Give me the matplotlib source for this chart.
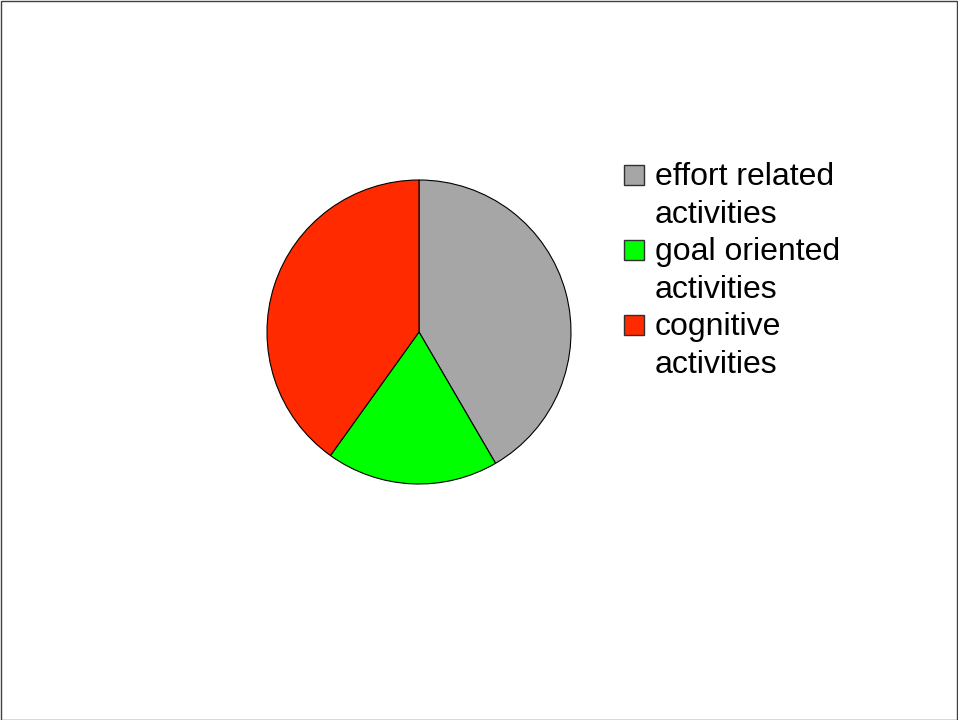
import matplotlib.pyplot as plt
from matplotlib.patches import Rectangle

plt.rcParams["font.family"] = ["Liberation Sans", "DejaVu Sans"]

# доли секторов (в процентах)
labels = ["effort related\nactivities", "goal oriented\nactivities", "cognitive\nactivities"]
shares = [41.6, 18.3, 40.1]
colors = ["#A6A6A6", "#00FF00", "#FF2A00"]

W, H = 958, 720
fig = plt.figure(figsize=(W / 100, H / 100), dpi=100)

# рамка вокруг всего рисунка
fig.patches.append(Rectangle((0.5 / W, 0.5 / H), 1 - 1.5 / W, 1 - 1.5 / H,
                             transform=fig.transFigure, fill=False,
                             edgecolor="#404040", linewidth=1))

# круговая диаграмма: центр (419, 332), радиус 152 px
cx, cy, r = 419, 332, 152
ax = fig.add_axes([(cx - r) / W, (H - cy - r) / H, 2 * r / W, 2 * r / H])
wedges, _ = ax.pie(shares, colors=colors, startangle=90, counterclock=False,
                   wedgeprops=dict(edgecolor="black", linewidth=0.8))
ax.set_xlim(-1, 1)
ax.set_ylim(-1, 1)

# легенда вручную: квадрат + двухстрочная подпись
sq = 20
for i, (label, w) in enumerate(zip(labels, wedges)):
    base = 185 + i * 75  # базовая линия первой строки, px сверху
    fig.patches.append(Rectangle((624 / W, (H - base) / H), sq / W, sq / H,
                                 transform=fig.transFigure,
                                 facecolor=w.get_facecolor(),
                                 edgecolor="#303030", linewidth=1))
    first, second = label.split("\n")
    fig.text(655 / W, (H - base) / H, first, fontsize=23, va="baseline", ha="left")
    fig.text(655 / W, (H - base - 38) / H, second, fontsize=23, va="baseline", ha="left")

fig.savefig("out.png", dpi=100)
